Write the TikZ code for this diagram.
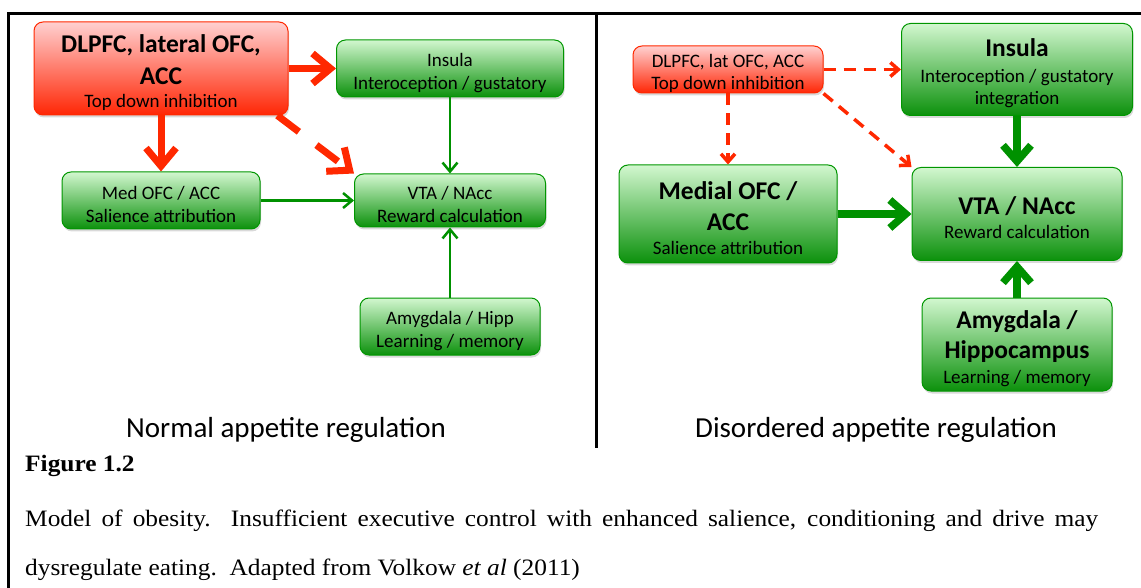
\documentclass[tikz,border=0pt]{standalone}
\usepackage{fontspec}
\setmainfont{Carlito}
\newfontfamily\capfont[FakeStretch=1.08]{Liberation Serif}
\usetikzlibrary{arrows.meta,shadows,calc}
\definecolor{gtop}{RGB}{210,247,207}
\definecolor{gbot}{RGB}{12,145,12}
\definecolor{gline}{RGB}{0,150,0}
\definecolor{rtop}{RGB}{255,208,208}
\definecolor{rbot}{RGB}{255,38,5}
\definecolor{rline}{RGB}{255,40,0}
\definecolor{arrg}{RGB}{0,145,0}
\newcommand\bigb{\fontsize{25.5}{30}\selectfont\bfseries}
\newcommand\nrm{\fontsize{19}{23}\selectfont}
\newcommand\topn{\rule{0pt}{21.5pt}}
\newcommand\topb{\rule{0pt}{26pt}}
\tikzset{
  box/.style={rounded corners=9pt, line width=1pt, inner sep=0pt, align=center,
    font=\nrm, drop shadow={shadow xshift=1pt, shadow yshift=-2.5pt, opacity=0.3}},
  gbox/.style={box, draw=gline, top color=gtop, bottom color=gbot},
  rbox/.style={box, draw=rline, top color=rtop, bottom color=rbot},
  redthick/.style={draw=rline, line width=7pt, -{Straight Barb[length=18pt,width=30pt]}},
  redthickdash/.style={redthick, dash pattern=on 27pt off 22pt},
  greenthin/.style={draw=arrg, line width=2.5pt, -{Straight Barb[length=9pt,width=15pt]}},
  greenthick/.style={draw=arrg, line width=7.5pt, -{Straight Barb[length=16pt,width=28pt]}},
  reddash/.style={draw=rline, line width=3.5pt, dash pattern=on 12pt off 8pt, -{Straight Barb[length=8pt,width=14pt]}},
  frame/.style={line width=3pt, draw=black},
  title/.style={font=\fontsize{29}{35}\selectfont, anchor=base, inner sep=0pt},
  captext/.style={font=\capfont\fontsize{23.5}{28}\selectfont, anchor=base west, inner sep=0pt}
}
\begin{document}
\begin{tikzpicture}[x=1pt,y=-1pt]
\useasboundingbox (0,0) rectangle (1141,588);
% frame
\coordinate (tl) at (8,14);
\coordinate (tr) at (1141,14);
\coordinate (bl) at (8,588);
\coordinate (dt) at (596,14);
\coordinate (db) at (596,448);
\draw[frame] (tr) -- (tl) -- (bl);
\draw[frame] (dt) -- (db);

% left panel
\node[rbox, minimum width=254pt, minimum height=93pt] (Ldl) at (161,68.5)
  {\bigb\topb DLPFC, lateral OFC,\\[9pt]\bigb ACC\\\nrm Top down inhibition};
\node[gbox, minimum width=227pt, minimum height=57pt] (Lins) at (450,68.5)
  {\topn Insula\\Interoception / gustatory};
\node[gbox, minimum width=198pt, minimum height=57pt] (Lmed) at (161,200.5)
  {\topn Med OFC / ACC\\Salience attribution};
\node[gbox, minimum width=191pt, minimum height=53pt] (Lvta) at (450,200.5)
  {\topn VTA / NAcc\\Reward calculation};
\node[gbox, minimum width=180pt, minimum height=57pt] (Lamy) at (450,326.5)
  {\topn Amygdala / Hipp\\Learning / memory};

\draw[redthick] (Ldl.east) -- (Lins.west);
\draw[redthick] (Ldl.south) -- (Lmed.north);
\draw[redthickdash] (Ldl.-22) -- (Lvta.north west);
\draw[greenthin] (Lins.south) -- (Lvta.north);
\draw[greenthin] (Lmed.east) -- (Lvta.west);
\draw[greenthin] (Lamy.north) -- (Lvta.south);

% right panel
\node[rbox, minimum width=190pt, minimum height=47pt] (Rdl) at (728,69.5)
  {\topn DLPFC, lat OFC, ACC\\[-1pt]Top down inhibition};
\node[gbox, minimum width=231pt, minimum height=92pt] (Rins) at (1017,69.5)
  {\bigb\topb Insula\\[3pt]Interoception / gustatory\\[-1pt]integration};
\node[gbox, minimum width=218pt, minimum height=98pt] (Rmed) at (728,214)
  {\bigb\topb Medial OFC /\\[8pt]\bigb ACC\\[1pt]Salience attribution};
\node[gbox, minimum width=210pt, minimum height=93pt] (Rvta) at (1017,214)
  {\bigb\topb VTA / NAcc\\[1pt]Reward calculation};
\node[gbox, minimum width=190pt, minimum height=93pt] (Ramy) at (1017,344.5)
  {\bigb\topb Amygdala /\\[7pt]\bigb Hippocampus\\[2pt]Learning / memory};

\draw[reddash] (Rdl.east) -- (Rins.west);
\draw[reddash] (Rdl.south) -- (Rmed.north);
\draw[reddash] (Rdl.south east) -- (Rvta.north west);
\draw[greenthick] (Rins.south) -- (Rvta.north);
\draw[greenthick] (Rmed.east) -- (Rvta.west);
\draw[greenthick] (Ramy.north) -- (Rvta.south);

% titles
\node[title] (t1) at (286,437) {Normal appetite regulation};
\node[title] (t2) at (876,437) {Disordered appetite regulation};

% caption
\node[captext, font=\capfont\bfseries\fontsize{23.5}{28}\selectfont] (fig) at (25,471) {Figure 1.2};
\node[captext] (cap1) at (25,526) {\makebox[1073pt][s]{Model of obesity.\ \ Insufficient executive control with enhanced salience, conditioning and drive may}};
\node[captext] (cap2) at (25,575) {dysregulate eating.\ \ Adapted from Volkow \textit{et al} (2011)};
\end{tikzpicture}
\end{document}
